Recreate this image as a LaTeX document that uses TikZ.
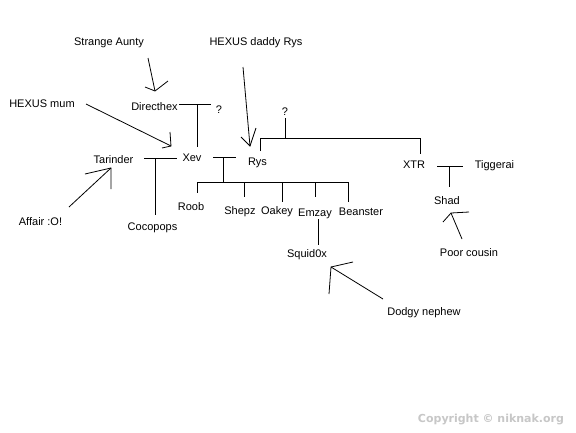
\documentclass[tikz,border=0pt]{standalone}
\usepackage{fontspec}
\setmainfont{Liberation Sans}
\newfontfamily\copyfont{DejaVu Sans}
\begin{document}
\begin{tikzpicture}[x=1pt,y=-1pt,
  person/.style={inner sep=0pt,text height=8pt,text depth=0pt,font=\fontsize{11}{13}\selectfont},
  ln/.style={line width=0.9pt,black},
  thin/.style={line width=0.8pt,black}]
\fill[white] (0,0) rectangle (576,432);
\useasboundingbox (0,0) rectangle (576,432);
% texts
\node[person] (aunty) at (109,41) {Strange Aunty};
\node[person] (daddy) at (256,41) {HEXUS daddy Rys};
\node[person] (mum) at (42,103) {HEXUS mum};
\node[person] (directhex) at (154.5,106) {Directhex};
\node[person] (q1) at (219,109) {?};
\node[person] (q2) at (285,111) {?};
\node[person] (tarinder) at (113.5,159) {Tarinder};
\node[person] (xev) at (192,157) {Xev};
\node[person] (rys) at (257.5,161) {Rys};
\node[person] (xtr) at (414,164) {XTR};
\node[person] (tiggerai) at (494.5,164) {Tiggerai};
\node[person] (shad) at (447,200) {Shad};
\node[person] (roob) at (191,206) {Roob};
\node[person] (shepz) at (240,210) {Shepz};
\node[person] (oakey) at (277,210) {Oakey};
\node[person] (emzay) at (315,212) {Emzay};
\node[person] (beanster) at (361,211) {Beanster};
\node[person] (cocopops) at (152.5,226) {Cocopops};
\node[person] (squid) at (307,253) {Squid0x};
\node[person] (poor) at (469,252) {Poor cousin};
\node[person] (affair) at (40.5,221) {Affair :O!};
\node[person] (dodgy) at (424,311) {Dodgy nephew};
\node[inner sep=0pt,text height=8pt,text depth=0pt,text=black!22,font=\copyfont\bfseries\fontsize{11}{13}\selectfont] (copy) at (491,418) {Copyright © niknak.org};
% coordinates
\coordinate (dirL) at (179,104); \coordinate (dirR) at (211,104);
\coordinate (dirM) at (197,104); \coordinate (dirD) at (197,147);
\coordinate (tarL) at (144,158); \coordinate (tarR) at (177,158);
\coordinate (tarM) at (155,158); \coordinate (tarD) at (155,215);
\coordinate (xrL) at (213,157); \coordinate (xrR) at (236,157);
\coordinate (xrM) at (223,157); \coordinate (xrD) at (223,182);
\coordinate (kidL) at (197,182); \coordinate (kidR) at (348,182);
\coordinate (kRoob) at (197,193); \coordinate (kShepz) at (244,197);
\coordinate (kOakey) at (282,202); \coordinate (kEmzay) at (315,197);
\coordinate (kBean) at (348,202);
\coordinate (kShepzT) at (244,182); \coordinate (kOakeyT) at (282,182);
\coordinate (kEmzayT) at (315,182);
\coordinate (emD) at (318,219); \coordinate (sqU) at (318,245);
\coordinate (rysU) at (260,151); \coordinate (rysC) at (260,138.5);
\coordinate (xtrC) at (420,138.5); \coordinate (xtrU) at (420,154);
\coordinate (qD) at (285,118); \coordinate (qC) at (285,138.5);
\coordinate (xtL) at (437,166); \coordinate (xtR) at (463,166);
\coordinate (xtM) at (449,166); \coordinate (xtD) at (449,187);
% family lines
\draw[ln] (dirL) -- (dirR);
\draw[ln] (dirM) -- (dirD);
\draw[ln] (tarL) -- (tarR);
\draw[ln] (tarM) -- (tarD);
\draw[ln] (xrL) -- (xrR);
\draw[ln] (xrM) -- (xrD);
\draw[ln] (kidL) -- (kidR);
\draw[ln] (kidL) -- (kRoob);
\draw[ln] (kShepzT) -- (kShepz);
\draw[ln] (kOakeyT) -- (kOakey);
\draw[ln] (kEmzayT) -- (kEmzay);
\draw[ln] (kidR) -- (kBean);
\draw[ln] (emD) -- (sqU);
\draw[ln] (rysU) -- (rysC) -- (xtrC) -- (xtrU);
\draw[ln] (qD) -- (qC);
\draw[ln] (xtL) -- (xtR);
\draw[ln] (xtM) -- (xtD);
% hand drawn arrows
\coordinate (a1s) at (148,58); \coordinate (a1t) at (155,91);
\coordinate (a1l) at (145,87); \coordinate (a1r) at (168,81);
\draw[thin] (a1s) -- (a1t); \draw[thin] (a1l) -- (a1t) -- (a1r);
\coordinate (a2s) at (86,104); \coordinate (a2t) at (171,146);
\coordinate (a2l) at (162,148); \coordinate (a2r) at (170,132);
\draw[thin] (a2s) -- (a2t); \draw[thin] (a2l) -- (a2t) -- (a2r);
\coordinate (a3s) at (243,67); \coordinate (a3t) at (250,146);
\coordinate (a3l) at (241,137); \coordinate (a3r) at (256,128);
\draw[thin] (a3s) -- (a3t); \draw[thin] (a3l) -- (a3t) -- (a3r);
\coordinate (a4s) at (462,239); \coordinate (a4t) at (451,213);
\coordinate (a4l) at (443,222); \coordinate (a4r) at (469,212);
\draw[thin] (a4s) -- (a4t); \draw[thin] (a4l) -- (a4t) -- (a4r);
\coordinate (a5s) at (69,207); \coordinate (a5t) at (111,168);
\coordinate (a5l) at (85,174); \coordinate (a5r) at (111,189);
\draw[thin] (a5s) -- (a5t); \draw[thin] (a5l) -- (a5t) -- (a5r);
\coordinate (a6s) at (383,299); \coordinate (a6t) at (331,267);
\coordinate (a6l) at (353,262); \coordinate (a6r) at (329,294);
\draw[thin] (a6s) -- (a6t); \draw[thin] (a6l) -- (a6t) -- (a6r);
\end{tikzpicture}
\end{document}
